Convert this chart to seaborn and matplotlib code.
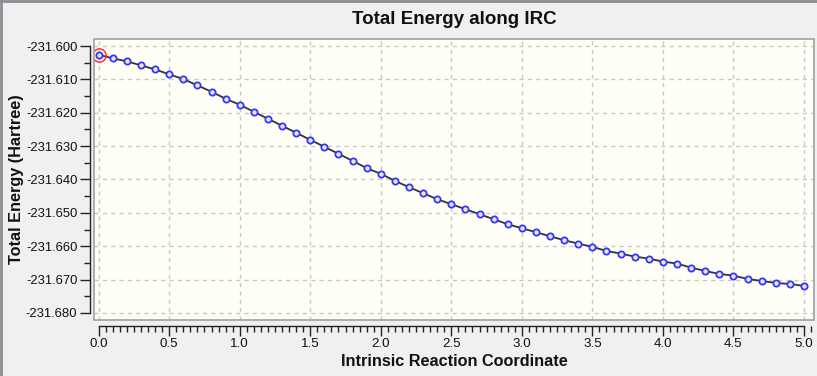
import numpy as np
import pandas as pd
import matplotlib
matplotlib.use("Agg")
import matplotlib.pyplot as plt
import seaborn as sns
from matplotlib.ticker import MultipleLocator, FuncFormatter
from matplotlib.lines import Line2D
from matplotlib.patches import Rectangle

# ---- data ----
irc_coord = [round(0.1 * i, 1) for i in range(51)]
total_energy = [
    -231.6026, -231.6037, -231.6046, -231.6058, -231.6070, -231.6085,
    -231.6099, -231.6118, -231.6137, -231.6158, -231.6176, -231.6197,
    -231.6218, -231.6239, -231.6260, -231.6281, -231.6302, -231.6323,
    -231.6344, -231.6366, -231.6383, -231.6404, -231.6423, -231.6441,
    -231.6459, -231.6474, -231.6489, -231.6504, -231.6519, -231.6534,
    -231.6546, -231.6558, -231.6570, -231.6582, -231.6592, -231.6602,
    -231.6614, -231.6622, -231.6631, -231.6637, -231.6646, -231.6652,
    -231.6664, -231.6674, -231.6683, -231.6688, -231.6698, -231.6704,
    -231.6710, -231.6713, -231.6719,
]
title = "Total Energy along IRC"
xlabel = "Intrinsic Reaction Coordinate"
ylabel = "Total Energy (Hartree)"

df = pd.DataFrame({"x": irc_coord, "y": total_energy})

sns.set_theme(style="white")
plt.rcParams["font.family"] = ["Liberation Sans", "DejaVu Sans"]
plt.rcParams["axes.unicode_minus"] = False

W, H = 817, 376
fig = plt.figure(figsize=(W / 100, H / 100), dpi=100, facecolor="#f0f0f0")

L, R, T, B = 94, 814, 39, 320
ax = fig.add_axes([L / W, 1 - B / H, (R - L) / W, (B - T) / H])
ax.set_facecolor("#fffff7")

sns.lineplot(data=df, x="x", y="y", ax=ax, color="#333333", linewidth=1.3,
             marker="o", markersize=4.5, markerfacecolor="#e8e8ff",
             markeredgecolor="#3535ff", markeredgewidth=1.3, zorder=3)
# highlighted current point
ax.plot([irc_coord[0]], [total_energy[0]], marker="o", markersize=9.5,
        markerfacecolor="none", markeredgecolor="#ff3030",
        markeredgewidth=1.1, zorder=4)

ax.set_xlim(-0.033, 5.071)
ax.set_ylim(-231.6821, -231.5979)

ax.xaxis.set_major_locator(MultipleLocator(0.5))
ax.xaxis.set_minor_locator(MultipleLocator(0.05))
ax.yaxis.set_major_locator(MultipleLocator(0.01))
ax.yaxis.set_minor_locator(MultipleLocator(0.005))
ax.xaxis.set_major_formatter(FuncFormatter(lambda v, p: f"{v:.1f}"))
ax.yaxis.set_major_formatter(FuncFormatter(lambda v, p: f"{v:.3f}"))

ax.grid(True, which="major", color="#c8c8c8", linestyle=(0, (3, 3)),
        linewidth=1.0, zorder=0)

for s in ["top", "right"]:
    ax.spines[s].set_visible(False)
ax.spines["left"].set_position(("outward", 3))
ax.spines["bottom"].set_position(("outward", 4))
ax.spines["left"].set_bounds(-231.68, -231.60)
ax.spines["bottom"].set_bounds(0.0, 5.0)
for s in ["left", "bottom"]:
    ax.spines[s].set_color("#222222")
    ax.spines[s].set_linewidth(1.0)

ax.tick_params(axis="y", which="major", direction="out", length=7,
               width=1.0, color="#222222", labelsize=9.4, labelcolor="#111111",
               left=True, pad=2)
ax.tick_params(axis="y", which="minor", direction="out", length=4.5,
               width=1.0, color="#222222", left=True)
ax.tick_params(axis="x", which="major", direction="out", length=7,
               width=1.0, color="#222222", labelsize=9.6, labelcolor="#111111",
               bottom=True, pad=2)
ax.tick_params(axis="x", which="minor", direction="out", length=4,
               width=1.0, color="#222222", bottom=True)

# plot-area border
ax.add_patch(Rectangle((0, 0), 1, 1, transform=ax.transAxes, fill=False,
                       edgecolor="#a0a0a0", linewidth=1.2, zorder=5,
                       clip_on=False))

ax.set_xlabel(xlabel, fontsize=11.7, fontweight="bold", color="#111111")
ax.set_ylabel(ylabel, fontsize=11.7, fontweight="bold", color="#111111")
ax.xaxis.set_label_coords(0.5, -(361 - B) / (B - T), transform=ax.transAxes)
ax.xaxis.label.set_va("center")
ax.yaxis.set_label_coords(-(L - 17) / (R - L), 0.5, transform=ax.transAxes)
ax.yaxis.label.set_va("center")
fig.text((L + R) / 2 / W, 1 - 20 / H, title, ha="center", va="center",
         fontsize=13.5, fontweight="bold", color="#111111")

# outer window frame (top and left)
fig.add_artist(Line2D([0, 1], [1 - 1 / H, 1 - 1 / H], transform=fig.transFigure,
                      color="#8a8d93", linewidth=2))
fig.add_artist(Line2D([1 / W, 1 / W], [0, 1], transform=fig.transFigure,
                      color="#8a8d93", linewidth=2))

fig.savefig("out.png", dpi=100, facecolor=fig.get_facecolor())
